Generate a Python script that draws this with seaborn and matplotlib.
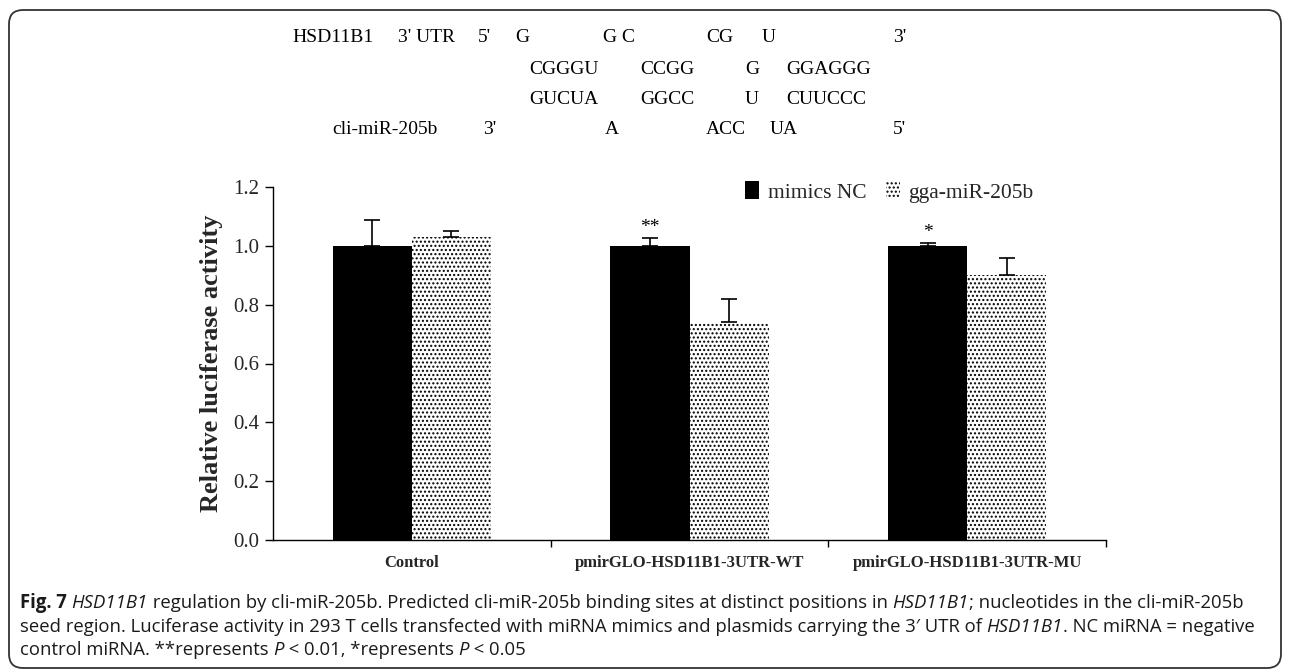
import matplotlib
matplotlib.use("Agg")
import matplotlib.pyplot as plt
import seaborn as sns
import pandas as pd
from matplotlib.patches import Patch, FancyBboxPatch
from matplotlib.transforms import IdentityTransform
from matplotlib import font_manager

# ---------------- data ----------------
categories = ["Control", "pmirGLO-HSD11B1-3UTR-WT", "pmirGLO-HSD11B1-3UTR-MU"]
groups = ["mimics NC", "gga-miR-205b"]
nc_values = [1.00, 1.00, 1.00]
mir_values = [1.03, 0.74, 0.90]
nc_err = [0.088, 0.027, 0.010]
mir_err = [0.020, 0.080, 0.060]
sig_labels = ["", "**", "*"]
y_ticks = [0.0, 0.2, 0.4, 0.6, 0.8, 1.0, 1.2]
y_label = "Relative luciferase activity"

seq_lines = [
    [("HSD11B1", 292), ("3' UTR", 398), ("5'", 478), ("G", 515), ("G C", 603),
     ("CG", 706), ("U", 762), ("3'", 893)],
    [("CGGGU", 529), ("CCGG", 640), ("G", 745), ("GGAGGG", 786)],
    [("GUCUA", 529), ("GGCC", 640), ("U", 745), ("CUUCCC", 786)],
    [("cli-miR-205b", 332), ("3'", 483), ("A", 605), ("ACC", 706), ("UA", 770), ("5'", 893)],
]
seq_y = [38, 70, 99, 129]

caption_lines = [
    [("Fig. 7", "bold"), (" ", "normal"), ("HSD11B1", "italic"),
     (" regulation by cli-miR-205b. Predicted cli-miR-205b binding sites at distinct positions in ", "normal"),
     ("HSD11B1", "italic"), ("; nucleotides in the cli-miR-205b", "normal")],
    [("seed region. Luciferase activity in 293 T cells transfected with miRNA mimics and plasmids carrying the 3\u2032 UTR of ", "normal"),
     ("HSD11B1", "italic"), (". NC miRNA = negative", "normal")],
    [("control miRNA. **represents ", "normal"), ("P", "italic"), (" < 0.01, *represents ", "normal"),
     ("P", "italic"), (" < 0.05", "normal")],
]
caption_y = [603, 627, 650]

# ---------------- style ----------------
sns.set_style("ticks")
serif = ["Liberation Serif", "DejaVu Serif"]
plt.rcParams["font.family"] = serif
plt.rcParams["hatch.linewidth"] = 1.0
avail = {f.name for f in font_manager.fontManager.ttflist}
cap_font = "Liberation Sans Narrow" if "Liberation Sans Narrow" in avail else "Open Sans"

W, H = 1290, 672
fig = plt.figure(figsize=(W / 100, H / 100), dpi=100)
ax = fig.add_axes([273 / W, 1 - 540 / H, (1106 - 273) / W, (540 - 187) / H])

df = pd.DataFrame({
    "category": categories * 2,
    "group": [groups[0]] * len(categories) + [groups[1]] * len(categories),
    "value": nc_values + mir_values,
})
sns.barplot(data=df, x="category", y="value", hue="group", order=categories,
            hue_order=groups, palette=["black", "white"], width=0.57,
            errorbar=None, legend=False, saturation=1, linewidth=0, ax=ax)

for bar in ax.containers[1]:
    bar.set_hatch("....")
    bar.set_edgecolor("black")
    bar.set_linewidth(0)

for cont, errs in zip(ax.containers, [nc_err, mir_err]):
    xs = [b.get_x() + b.get_width() / 2 for b in cont]
    ys = [b.get_height() for b in cont]
    ax.errorbar(xs, ys, yerr=[[0] * len(errs), errs], fmt="none", ecolor="black",
                elinewidth=1.2, capsize=5.5, capthick=1.2, zorder=3)

for b, e, lab in zip(ax.containers[0], nc_err, sig_labels):
    if lab:
        ax.text(b.get_x() + b.get_width() / 2, b.get_height() + e + 0.008, lab,
                ha="center", va="bottom", fontsize=14, color="black")

ax.set_xlim(-0.5, len(categories) - 0.5)
ax.set_ylim(0, 1.2)
ax.set_yticks(y_ticks)
ax.set_yticklabels([f"{v:.1f}" for v in y_ticks], fontsize=15)
ax.set_xticks(range(len(categories)))
ax.set_xticklabels(categories, fontsize=12, fontweight="bold")
ax.set_xticks([i + 0.5 for i in range(len(categories))], minor=True)
ax.tick_params(axis="x", which="major", length=0, pad=11)
ax.tick_params(axis="x", which="minor", length=5, width=1, color="black", direction="out")
ax.tick_params(axis="y", length=6, width=1, color="black", direction="out", pad=4)
ax.set_xlabel("")
ax.set_ylabel(y_label, fontsize=19, fontweight="bold")
ax.yaxis.set_label_coords(-0.06, 0.5)
sns.despine(ax=ax)
for s in ["left", "bottom"]:
    ax.spines[s].set_color("black")
    ax.spines[s].set_linewidth(1.0)

handles = [Patch(facecolor="black", edgecolor="black", linewidth=0),
           Patch(facecolor="white", edgecolor="black", hatch="....", linewidth=0)]
fig.legend(handles, groups, loc="center left", bbox_to_anchor=(745 / W, 1 - 192 / H),
           ncol=2, frameon=False, fontsize=15.5, handlelength=0.65, handleheight=0.85,
           handletextpad=0.4, columnspacing=0.9, borderpad=0, borderaxespad=0)

# sequence alignment text
for line, yy in zip(seq_lines, seq_y):
    for txt, xx in line:
        fig.text(xx / W, 1 - yy / H, txt, ha="left", va="center", fontsize=14,
                 family=serif, color="black")

# caption with mixed styles, sized so the longest line fits the reference width
fig.canvas.draw()
renderer = fig.canvas.get_renderer()


def draw_runs(runs, yy, size, draw=True):
    x = 20.0
    made = []
    for txt, style in runs:
        kw = dict(fontsize=size, family=[cap_font, "DejaVu Sans"], color="#1a1a1a",
                  ha="left", va="center")
        if style == "bold":
            kw["fontweight"] = "bold"
        if style == "italic":
            kw["fontstyle"] = "italic"
        t = fig.text(x / W, 1 - yy / H, txt.replace(" ", "\u00a0"), **kw)
        x += t.get_window_extent(renderer).width
        made.append(t)
    if not draw:
        for t in made:
            t.remove()
    return x - 20.0


base = 13.0
widest = max(draw_runs(r, y, base, draw=False) for r, y in zip(caption_lines, caption_y))
cap_size = base * 1232.0 / widest
for runs, yy in zip(caption_lines, caption_y):
    draw_runs(runs, yy, cap_size)

border = FancyBboxPatch((9, 4), 1272, 658, boxstyle="round,pad=0,rounding_size=14",
                        transform=IdentityTransform(), fill=False, ec="#333333", lw=1.3)
fig.patches.append(border)

fig.savefig("out.png", dpi=100)
